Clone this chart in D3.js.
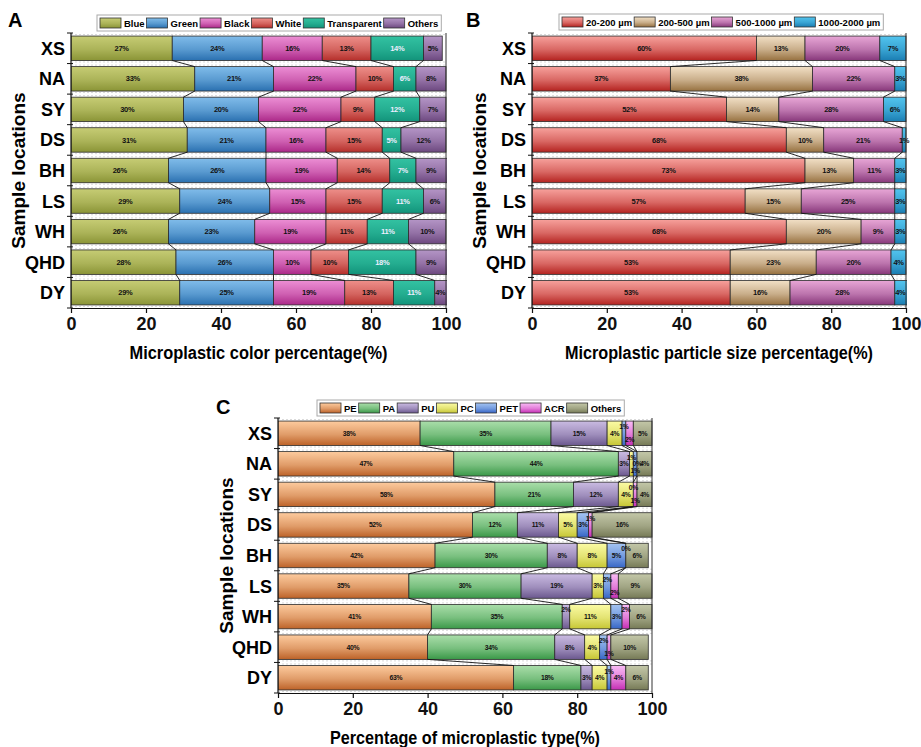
<!DOCTYPE html>
<html>
<head>
<meta charset="utf-8">
<script src="https://cdn.jsdelivr.net/npm/d3@7"></script>
<style>
  body { margin: 0; background: #fff; }
  svg { display: block; }
  text { font-family: "Liberation Sans", Arial, sans-serif; }
</style>
</head>
<body>
<svg id="chart" width="921" height="747"></svg>
<script>
// Sampling sites, top to bottom
const locations = ["XS", "NA", "SY", "DS", "BH", "LS", "WH", "QHD", "DY"];

// A: microplastic colour shares (%)
const colorNames = ["Blue", "Green", "Black", "White", "Transparent", "Others"];
const colorBlue        = [27, 33, 30, 31, 26, 29, 26, 28, 29];
const colorGreen       = [24, 21, 20, 21, 26, 24, 23, 26, 25];
const colorBlack       = [16, 22, 22, 16, 19, 15, 19, 10, 19];
const colorWhite       = [13, 10,  9, 15, 14, 15, 11, 10, 13];
const colorTransparent = [14,  6, 12,  5,  7, 11, 11, 18, 11];
const colorOthers      = [ 5,  8,  7, 12,  9,  6, 10,  9,  4];

// B: particle size shares (%)
const sizeNames = ["20-200 µm", "200-500 µm", "500-1000 µm", "1000-2000 µm"];
const size20_200     = [60, 37, 52, 68, 73, 57, 68, 53, 53];
const size200_500    = [13, 38, 14, 10, 13, 15, 20, 23, 16];
const size500_1000   = [20, 22, 28, 21, 11, 25,  9, 20, 28];
const size1000_2000  = [ 7,  3,  6,  1,  3,  3,  3,  4,  4];

// C: polymer type shares (%)
const typeNames = ["PE", "PA", "PU", "PC", "PET", "ACR", "Others"];
const typePE     = [38, 47, 58, 52, 42, 35, 41, 40, 63];
const typePA     = [35, 44, 21, 12, 30, 30, 35, 34, 18];
const typePU     = [15,  3, 12, 11,  8, 19,  2,  8,  3];
const typePC     = [ 4,  1,  4,  5,  8,  3, 11,  4,  4];
const typePET    = [ 1,  1,  0,  3,  5,  2,  3,  2,  1];
const typeACR    = [ 2,  0,  1,  1,  0,  2,  2,  1,  4];
const typeOthers = [ 5,  4,  4, 16,  6,  9,  6, 10,  6];

// Percentage axis ticks
const xTicks = [0, 20, 40, 60, 80, 100];

const svg = d3.select("#chart");
const defs = svg.append("defs");

const panels = [
  {
    key: "A", letter: [8, 27],
    series: colorNames,
    values: [colorBlue, colorGreen, colorBlack, colorWhite, colorTransparent, colorOthers],
    palette: [["#c6cc74", "#8a9436"], ["#80bcea", "#2a70b0"], ["#ec8ed4", "#ab2888"],
              ["#ee8f8a", "#b52f2b"], ["#33c2a2", "#12937a"], ["#b495c6", "#6c487f"]],
    labelFill: ["#111", "#111", "#111", "#111", "#eef", "#111"],
    labelSize: 7.5,
    x0: 71, x1: 446, y0: 33, y1: 308,
    legendX: 100, legendY: 15,
    yTitleX: 25, title: "Microplastic color percentage(%)", titleLen: 258
  },
  {
    key: "B", letter: [466, 27],
    series: sizeNames,
    values: [size20_200, size200_500, size500_1000, size1000_2000],
    palette: [["#f7a19c", "#b42320"], ["#f2e0c6", "#977140"], ["#e8a6d6", "#87377a"], ["#52c4ee", "#1a7db2"]],
    labelFill: ["#111", "#111", "#111", "#111"],
    labelSize: 7.5,
    x0: 532, x1: 906, y0: 33, y1: 308,
    legendX: 562, legendY: 14,
    yTitleX: 486, title: "Microplastic particle size percentage(%)", titleLen: 308
  },
  {
    key: "C", letter: [216, 414],
    series: typeNames,
    values: [typePE, typePA, typePU, typePC, typePET, typeACR, typeOthers],
    palette: [["#fdcb9e", "#bd6228"], ["#aadeaa", "#3a9848"], ["#cabbe2", "#6b588e"], ["#fbfba4", "#c6c634"],
              ["#a4c4f2", "#3766c6"], ["#f9bcf5", "#c52db4"], ["#c3c7a8", "#767a56"]],
    labelFill: ["#111", "#111", "#111", "#111", "#111", "#111", "#111"],
    labelSize: 6.8,
    x0: 278, x1: 652, y0: 418, y1: 693,
    legendX: 320, legendY: 400,
    yTitleX: 233, title: "Percentage of microplastic type(%)", titleLen: 270
  }
];

panels.forEach(drawPanel);

function drawPanel(p) {
  const g = svg.append("g");
  const x = d3.scaleLinear().domain([0, 100]).range([p.x0, p.x1]);
  const y = d3.scaleBand().domain(locations).range([p.y0, p.y1])
    .paddingInner(0.2).paddingOuter(0.1);
  const bw = y.bandwidth();
  const step = y.step();

  // gradients: light top, dark bottom
  p.series.forEach((s, k) => {
    const [top, bot] = p.palette[k];
    const grad = defs.append("linearGradient")
      .attr("id", `grad-${p.key}-${k}`)
      .attr("x1", 0).attr("y1", 0).attr("x2", 0).attr("y2", 1);
    grad.append("stop").attr("offset", "0%").attr("stop-color", top);
    grad.append("stop").attr("offset", "55%").attr("stop-color", d3.interpolateRgb(top, bot)(0.45));
    grad.append("stop").attr("offset", "100%").attr("stop-color", bot);
  });

  defs.append("clipPath").attr("id", `clip-${p.key}`)
    .append("rect").attr("x", p.x0).attr("y", p.y0 - 2)
    .attr("width", p.x1 - p.x0 + 1).attr("height", p.y1 - p.y0 + 4);

  const rows = locations.map((loc, i) => {
    const o = { loc };
    p.series.forEach((s, k) => { o[s] = p.values[k][i]; });
    return o;
  });
  const stacked = d3.stack().keys(p.series)(rows);

  // light dashed guides along each bar edge
  const guides = g.append("g");
  locations.forEach(loc => {
    [y(loc) - 1.5, y(loc) + bw + 1.5].forEach(yy => {
      guides.append("line")
        .attr("x1", p.x0).attr("x2", p.x1).attr("y1", yy).attr("y2", yy)
        .attr("stroke", "#cfcfcf").attr("stroke-width", 0.8)
        .attr("stroke-dasharray", "2,2");
    });
  });

  // bars
  const bars = g.append("g").attr("clip-path", `url(#clip-${p.key})`);
  stacked.forEach((layer, k) => {
    bars.selectAll(null).data(layer).enter().append("rect")
      .attr("x", d => x(d[0]))
      .attr("y", d => y(d.data.loc))
      .attr("width", d => Math.max(0, x(d[1]) - x(d[0])))
      .attr("height", bw)
      .attr("fill", `url(#grad-${p.key}-${k})`)
      .attr("stroke", "#2b2b2b")
      .attr("stroke-width", 0.8);
  });

  // series lines joining segment boundaries of consecutive bars
  const links = g.append("g");
  for (let k = 0; k < stacked.length - 1; k++) {
    for (let i = 0; i < locations.length - 1; i++) {
      const a = stacked[k][i], b = stacked[k][i + 1];
      links.append("line")
        .attr("x1", x(a[1])).attr("y1", y(locations[i]) + bw)
        .attr("x2", x(b[1])).attr("y2", y(locations[i + 1]))
        .attr("stroke", "#111").attr("stroke-width", 0.9);
    }
  }

  // value labels; runs of narrow segments get labels cycled up / down / centre
  const labels = g.append("g")
    .attr("font-size", p.labelSize).attr("font-weight", "bold")
    .attr("text-anchor", "middle");
  const nudges = [-6.5, 6.5, 0];
  locations.forEach((loc, i) => {
    let run = 0;
    stacked.forEach((layer, k) => {
      const d = layer[i];
      const v = p.values[k][i];
      const w = x(Math.min(d[1], 100)) - x(d[0]);
      let dy = 0;
      if (p.key === "C" && w < 8) { dy = nudges[run % 3]; run++; } else { run = 0; }
      labels.append("text")
        .attr("x", (x(d[0]) + x(Math.min(d[1], 100))) / 2)
        .attr("y", y(loc) + bw / 2 + dy)
        .attr("dy", "0.35em")
        .attr("fill", p.labelFill[k])
        .attr("letter-spacing", -0.3)
        .text(`${v}%`);
    });
  });

  // right frame line
  g.append("line")
    .attr("x1", p.x1).attr("x2", p.x1).attr("y1", p.y0).attr("y2", p.y1)
    .attr("stroke", "#333").attr("stroke-width", 1);

  // left axis with ticks at band boundaries
  const yAxis = g.append("g");
  yAxis.append("line")
    .attr("x1", p.x0).attr("x2", p.x0).attr("y1", p.y0).attr("y2", p.y1)
    .attr("stroke", "#111").attr("stroke-width", 1.2);
  d3.range(locations.length + 1).forEach(i => {
    const yy = p.y0 + i * step;
    yAxis.append("line")
      .attr("x1", p.x0 - 4).attr("x2", p.x0 + 2).attr("y1", yy).attr("y2", yy)
      .attr("stroke", "#111").attr("stroke-width", 1);
  });
  yAxis.selectAll(null).data(locations).enter().append("text")
    .attr("x", p.x0 - 6)
    .attr("y", d => y(d) + bw / 2)
    .attr("dy", "0.36em")
    .attr("text-anchor", "end")
    .attr("font-size", 18).attr("font-weight", "bold")
    .text(d => d);

  // bottom axis
  const xAxis = g.append("g")
    .attr("transform", `translate(0,${p.y1})`)
    .call(d3.axisBottom(x).tickValues(xTicks).tickSize(5).tickSizeOuter(0).tickPadding(4));
  xAxis.select(".domain").attr("stroke", "#111").attr("stroke-width", 1.2);
  xAxis.selectAll(".tick line").attr("stroke", "#111").attr("stroke-width", 1.2);
  xAxis.selectAll(".tick text")
    .attr("font-family", "Liberation Sans, Arial, sans-serif")
    .attr("font-size", 18).attr("font-weight", "bold").attr("fill", "#111");

  // axis titles
  g.append("text")
    .attr("x", (p.x0 + p.x1) / 2).attr("y", p.y1 + 51)
    .attr("text-anchor", "middle")
    .attr("font-size", 18).attr("font-weight", "bold")
    .attr("textLength", p.titleLen).attr("lengthAdjust", "spacingAndGlyphs")
    .text(p.title);
  g.append("text")
    .attr("transform", `translate(${p.yTitleX},${(p.y0 + p.y1) / 2}) rotate(-90)`)
    .attr("text-anchor", "middle")
    .attr("font-size", 19).attr("font-weight", "bold")
    .text("Sample locations");

  // panel letter
  g.append("text")
    .attr("x", p.letter[0]).attr("y", p.letter[1])
    .attr("font-size", 20).attr("font-weight", "bold")
    .text(p.key);

  // legend
  const lg = g.append("g");
  const box = lg.append("rect");
  let cx = p.legendX;
  p.series.forEach((s, k) => {
    lg.append("rect")
      .attr("x", cx).attr("y", p.legendY + 3)
      .attr("width", 21).attr("height", 10)
      .attr("fill", `url(#grad-${p.key}-${k})`)
      .attr("stroke", "#333").attr("stroke-width", 0.8);
    const t = lg.append("text")
      .attr("x", cx + 24).attr("y", p.legendY + 12)
      .attr("font-size", 9.5).attr("font-weight", "bold")
      .text(s);
    cx += 24 + t.node().getComputedTextLength() + 2;
  });
  box.attr("x", p.legendX - 3).attr("y", p.legendY)
    .attr("width", cx - p.legendX + 4).attr("height", 16)
    .attr("fill", "#fff").attr("stroke", "#aaa").attr("stroke-width", 1);
}
</script>
</body>
</html>
